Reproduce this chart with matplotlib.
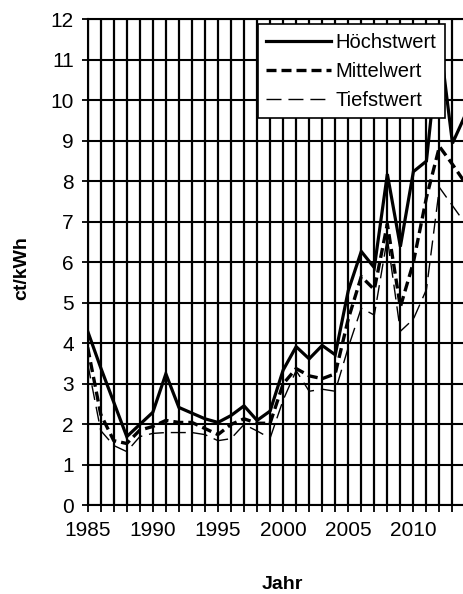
import matplotlib
matplotlib.use("Agg")
import matplotlib.pyplot as plt
import numpy as np

plt.rcParams['font.family'] = ['Liberation Sans', 'DejaVu Sans']
plt.rcParams['lines.scale_dashes'] = False

##### DATA #####
years = list(range(1985, 2015))
hoechst = [4.3, 3.4, 2.55, 1.7, 2.0, 2.3, 3.25, 2.42, 2.28, 2.14,
           2.05, 2.22, 2.46, 2.1, 2.33, 3.34, 3.92, 3.62, 3.95, 3.72,
           5.3, 6.27, 5.87, 8.18, 6.39, 8.24, 8.5, 11.55, 8.94, 9.65]
mittel = [3.9, 2.25, 1.6, 1.53, 1.86, 1.95, 2.1, 2.05, 2.05, 1.9,
          1.75, 2.0, 2.14, 2.03, 2.03, 3.0, 3.38, 3.2, 3.13, 3.25,
          4.6, 5.65, 5.33, 6.95, 4.9, 6.0, 7.6, 8.86, 8.42, 7.95]
tiefst = [3.5, 1.85, 1.48, 1.33, 1.7, 1.78, 1.8, 1.8, 1.8, 1.75,
          1.6, 1.65, 2.0, 1.84, 1.66, 2.6, 3.33, 2.82, 2.87, 2.82,
          3.9, 4.87, 4.7, 6.6, 4.3, 4.6, 5.33, 7.85, 7.4, 6.95]
labels = ["Höchstwert", "Mittelwert", "Tiefstwert"]
x_labels = [1985, 1990, 1995, 2000, 2005, 2010]
y_ticks = list(range(0, 13))
################

fig = plt.figure(figsize=(4.63, 5.94), dpi=100)
ax = fig.add_axes([0.1894, 0.149, 0.816, 0.8185])

ax.plot(years, hoechst, color="black", lw=2.3, solid_joinstyle="miter", label=labels[0], zorder=3)
ax.plot(years, mittel, color="black", lw=2.4, dashes=(7.2, 3.6), label=labels[1], zorder=3)
ax.plot(years, tiefst, color="black", lw=1.0, dashes=(10.8, 5.0), label=labels[2], zorder=3)

ax.set_xlim(1985, 2014)
ax.set_ylim(0, 12)
ax.set_xticks(x_labels)
ax.set_xticks(years, minor=True)
ax.set_yticks(y_ticks)

ax.grid(True, which="both", axis="x", color="black", lw=1.6)
ax.grid(True, which="major", axis="y", color="black", lw=1.5)
ax.set_axisbelow(True)

for side in ["left", "bottom", "top"]:
    ax.spines[side].set_linewidth(1.5)
ax.spines["right"].set_visible(False)

ax.tick_params(axis="x", which="both", direction="out", length=5, width=1.3, pad=6, labelsize=15)
ax.tick_params(axis="y", which="major", direction="out", length=4, width=1.3, pad=6, labelsize=15)

ax.set_xlabel("Jahr", fontsize=14, fontweight="bold")
ax.xaxis.set_label_coords(0.514, -0.146)
ax.set_ylabel("ct/kWh", fontsize=14, fontweight="bold")
ax.yaxis.set_label_coords(-0.152, 0.488)

leg = ax.legend(loc="upper right", bbox_to_anchor=(0.9455, 0.990), borderaxespad=0,
                fontsize=14.5, handlelength=3.2, handletextpad=0.25, labelspacing=0.5,
                borderpad=0.42, fancybox=False, framealpha=1, edgecolor="black")
leg.get_frame().set_linewidth(1.2)
leg.set_zorder(5)

fig.savefig("out.png", dpi=100)
